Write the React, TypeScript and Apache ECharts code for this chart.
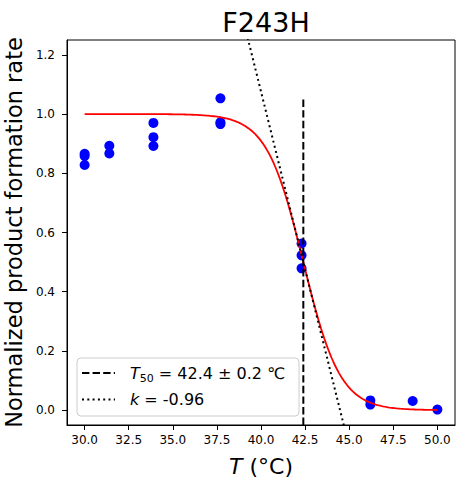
import React, { useEffect, useRef } from "react";
import * as echarts from "echarts";

const TITLE = "F243H";
const T50 = 42.4;
const T50_ERR = 0.2;
const K = -0.96;

const scatterT = [30, 30, 30, 31.4, 31.4, 33.9, 33.9, 33.9, 37.7, 37.7, 37.7, 42.3, 42.3, 42.3, 46.2, 46.2, 48.6, 50];
const scatterY = [0.866, 0.858, 0.828, 0.893, 0.867, 0.97, 0.922, 0.892, 1.053, 0.972, 0.966, 0.563, 0.523, 0.479, 0.033, 0.019, 0.031, 0.002];

const xTicks = [30, 32.5, 35, 37.5, 40, 42.5, 45, 47.5, 50];
const yTicks = [0, 0.2, 0.4, 0.6, 0.8, 1.0, 1.2];

const FONT = "DejaVu Sans";

export default function App() {
  const ref = useRef<HTMLDivElement>(null);
  useEffect(() => {
    if (!ref.current) return;
    const chart = echarts.init(ref.current, null, { renderer: "svg" });

    // fitted logistic curve from legend parameters
    const fit: number[][] = [];
    for (let i = 0; i <= 200; i++) {
      const t = 30 + i * 0.1;
      fit.push([t, 1 / (1 + Math.exp(-K * (t - T50)))]);
    }
    // tangent at T50 (slope k/4)
    const tangent = [37, 47].map((t) => [t, 0.5 + (K / 4) * (t - T50)]);

    chart.setOption({
      animation: false,
      textStyle: { fontFamily: FONT },
      title: {
        text: TITLE,
        left: 261,
        textAlign: "center",
        top: 4,
        textStyle: { fontFamily: FONT, fontSize: 27, fontWeight: "normal", color: "#000" },
      },
      grid: {
        left: 67,
        top: 40,
        right: 9,
        bottom: 62,
        containLabel: false,
        outerBoundsMode: "none",
        show: true,
        borderColor: "#000",
        borderWidth: 1,
        backgroundColor: "transparent",
      },
      xAxis: {
        type: "value",
        min: 29,
        max: 51,
        name: "{i|T} (°C)",
        nameLocation: "middle",
        nameGap: 30,
        nameTextStyle: {
          fontFamily: FONT,
          fontSize: 22,
          color: "#000",
          rich: { i: { fontStyle: "italic", fontFamily: FONT, fontSize: 22, color: "#000" } },
        },
        axisLine: { onZero: false, lineStyle: { color: "#000", width: 1 } },
        axisTick: { show: true, length: 5, lineStyle: { color: "#000" }, customValues: xTicks },
        axisLabel: {
          customValues: xTicks,
          formatter: (v: number) => v.toFixed(1),
          fontFamily: FONT,
          fontSize: 12,
          color: "#000",
          margin: 9,
        },
        splitLine: { show: false },
      },
      yAxis: {
        type: "value",
        min: -0.05,
        max: 1.25,
        name: "Normalized product formation rate",
        nameLocation: "middle",
        nameGap: 36,
        nameTextStyle: { fontFamily: FONT, fontSize: 22.5, color: "#000" },
        axisLine: { show: true, onZero: false, lineStyle: { color: "#000", width: 1 } },
        axisTick: { show: true, length: 5, lineStyle: { color: "#000" }, customValues: yTicks },
        axisLabel: {
          customValues: yTicks,
          formatter: (v: number) => v.toFixed(1),
          fontFamily: FONT,
          fontSize: 12,
          color: "#000",
          margin: 12,
        },
        splitLine: { show: false },
      },
      series: [
        {
          type: "scatter",
          data: scatterT.map((t, i) => [t, scatterY[i]]),
          symbol: "circle",
          symbolSize: 10,
          itemStyle: { color: "#0000ff", opacity: 1 },
          z: 2,
        },
        {
          type: "line",
          data: fit,
          showSymbol: false,
          symbol: "none",
          lineStyle: { color: "#ff0000", width: 1.8 },
          z: 3,
        },
        {
          type: "line",
          data: [
            [T50, -0.05],
            [T50, 1.05],
          ],
          showSymbol: false,
          symbol: "none",
          lineStyle: { color: "#000", width: 2, type: [7.4, 3.2] },
          z: 4,
        },
        {
          type: "line",
          data: tangent,
          showSymbol: false,
          symbol: "none",
          clip: true,
          lineStyle: { color: "#000", width: 2, type: [2, 3.3] },
          z: 4,
        },
      ],
      graphic: [
        {
          type: "rect",
          shape: { x: 77, y: 358, width: 222, height: 58, r: 4 },
          style: { fill: "rgba(255,255,255,0.8)", stroke: "#cccccc", lineWidth: 1 },
          z: 10,
        },
        {
          type: "line",
          shape: { x1: 82, y1: 373, x2: 115, y2: 373 },
          style: { stroke: "#000", lineWidth: 2, lineDash: [7.4, 3.2] },
          z: 11,
        },
        {
          type: "line",
          shape: { x1: 82, y1: 399.5, x2: 115, y2: 399.5 },
          style: { stroke: "#000", lineWidth: 2, lineDash: [2, 3.3] },
          z: 11,
        },
        {
          type: "text",
          x: 130,
          y: 373,
          style: {
            text: `{i|T}{sub|50}{n| = ${T50.toFixed(1)} ± ${T50_ERR.toFixed(1)} ℃}`,
            verticalAlign: "middle",
            rich: {
              i: { fontStyle: "italic", fontFamily: FONT, fontSize: 16, lineHeight: 22, fill: "#000" },
              sub: { fontFamily: FONT, fontSize: 11, lineHeight: 11, verticalAlign: "bottom", fill: "#000" },
              n: { fontFamily: FONT, fontSize: 16, lineHeight: 22, fill: "#000" },
            },
          },
          z: 11,
        },
        {
          type: "text",
          x: 130,
          y: 399.5,
          style: {
            text: `{i|k}{n| = ${K.toFixed(2)}}`,
            verticalAlign: "middle",
            rich: {
              i: { fontStyle: "italic", fontFamily: FONT, fontSize: 16, lineHeight: 20, fill: "#000" },
              n: { fontFamily: FONT, fontSize: 16, lineHeight: 20, fill: "#000" },
            },
          },
          z: 11,
        },
      ],
    });
    return () => chart.dispose();
  }, []);
  return (
    <div
      ref={ref}
      style={{ position: "fixed", left: 0, top: 0, width: 464, height: 487, background: "#fff" }}
    />
  );
}
